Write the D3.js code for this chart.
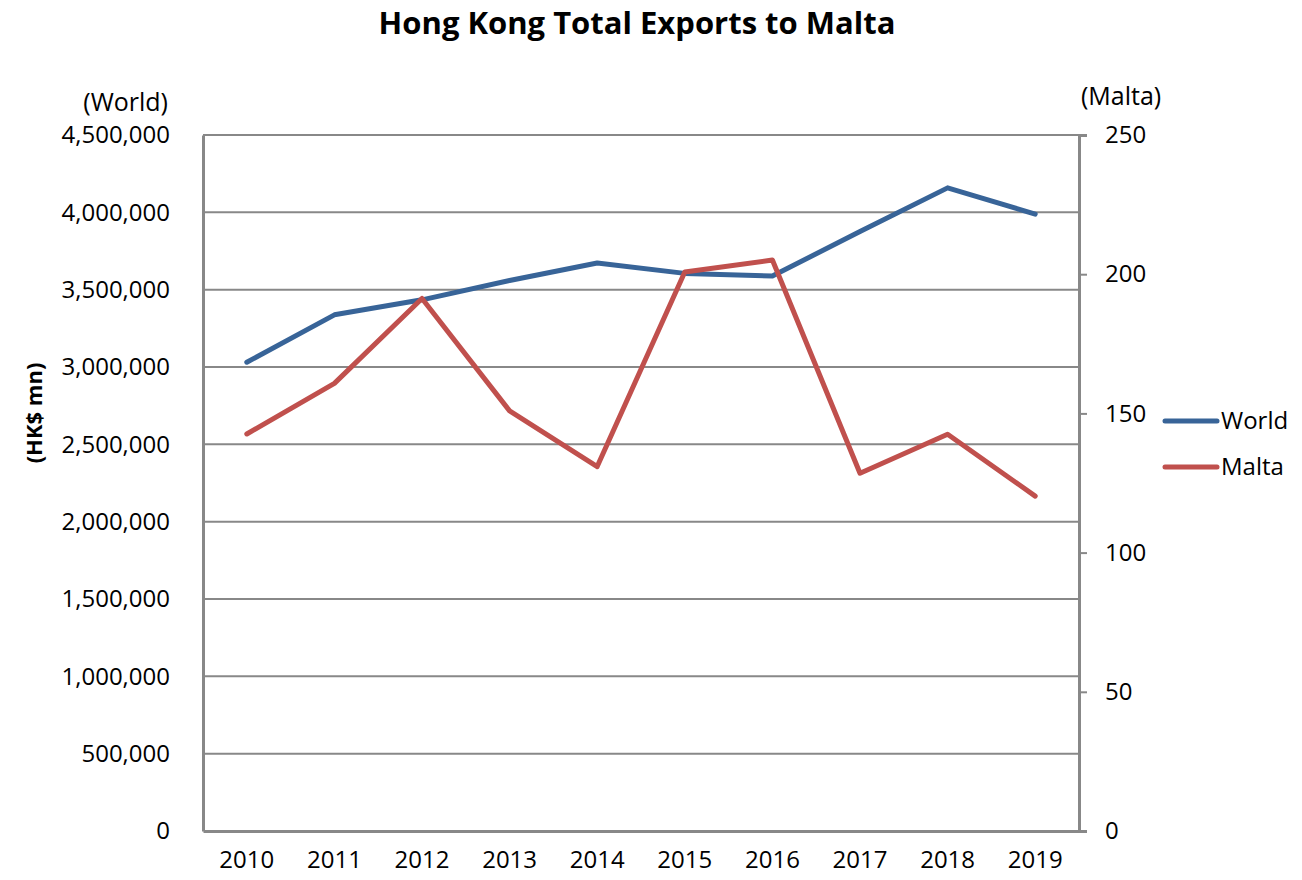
<!DOCTYPE html>
<html>
<head>
<meta charset="utf-8">
<script src="https://cdn.jsdelivr.net/npm/d3@7"></script>
<style>
  body { margin: 0; background: #fff; }
  text { font-family: "Open Sans", sans-serif; fill: #000; }
</style>
</head>
<body>
<div id="chart"><svg></svg></div>
<script>
// data
const years = ["2010", "2011", "2012", "2013", "2014", "2015", "2016", "2017", "2018", "2019"];
const world = [3031019, 3337253, 3434346, 3559686, 3672751, 3605279, 3588247, 3875898, 4158112, 3988685];
const malta = [142.6, 160.8, 191.3, 150.9, 130.9, 200.8, 205.1, 128.5, 142.5, 120.3];
const leftTicks = [0, 500000, 1000000, 1500000, 2000000, 2500000, 3000000, 3500000, 4000000, 4500000];
const rightTicks = [0, 50, 100, 150, 200, 250];

const W = 1302, H = 880;
const plot = {left: 203, right: 1079, top: 135, bottom: 831};
const gray = "#888888";

const svg = d3.select("#chart svg")
    .attr("width", W)
    .attr("height", H);

// scales
const x = d3.scaleBand()
    .domain(years)
    .range([plot.left, plot.right]);

const yL = d3.scaleLinear()
    .domain([0, 4500000])
    .range([plot.bottom, plot.top]);

const yR = d3.scaleLinear()
    .domain([0, 250])
    .range([plot.bottom, plot.top]);

// gridlines
svg.append("g")
    .selectAll("line")
    .data(leftTicks.slice(1))
    .join("line")
    .attr("x1", plot.left)
    .attr("x2", plot.right)
    .attr("y1", d => yL(d))
    .attr("y2", d => yL(d))
    .attr("stroke", gray)
    .attr("stroke-width", 2);

// left axis
const axL = svg.append("g")
    .attr("transform", `translate(${plot.left},0)`)
    .call(d3.axisLeft(yL).tickValues(leftTicks).tickSize(0).tickPadding(33).tickFormat(d3.format(",")));
axL.select(".domain").attr("stroke", gray).attr("stroke-width", 3);
axL.selectAll("text").style("font-size", "24px").attr("font-family", "Open Sans");

// right axis
const axR = svg.append("g")
    .attr("transform", `translate(${plot.right},0)`)
    .call(d3.axisRight(yR).tickValues(rightTicks).tickSize(8).tickPadding(18));
axR.select(".domain").attr("stroke", gray).attr("stroke-width", 3);
axR.selectAll("line").attr("stroke", gray).attr("stroke-width", 2);
axR.selectAll("text").style("font-size", "24px").attr("font-family", "Open Sans");

// bottom axis
const axB = svg.append("g")
    .attr("transform", `translate(0,${plot.bottom})`)
    .call(d3.axisBottom(x).tickSize(0).tickPadding(20));
axB.select(".domain").attr("stroke", gray).attr("stroke-width", 3);
axB.selectAll("text").style("font-size", "24px").attr("font-family", "Open Sans");

// lines
const cx = d => x(d) + x.bandwidth() / 2;

const lineW = d3.line()
    .x((d, i) => cx(years[i]))
    .y(d => yL(d));

const lineM = d3.line()
    .x((d, i) => cx(years[i]))
    .y(d => yR(d));

svg.append("path")
    .datum(world)
    .attr("fill", "none")
    .attr("stroke", "#386498")
    .attr("stroke-width", 5)
    .attr("stroke-linejoin", "round")
    .attr("stroke-linecap", "round")
    .attr("d", lineW);

svg.append("path")
    .datum(malta)
    .attr("fill", "none")
    .attr("stroke", "#C0504D")
    .attr("stroke-width", 5)
    .attr("stroke-linejoin", "round")
    .attr("stroke-linecap", "round")
    .attr("d", lineM);

// title
svg.append("text")
    .attr("x", 637)
    .attr("y", 34)
    .attr("text-anchor", "middle")
    .style("font-size", "31px")
    .style("font-weight", "bold")
    .text("Hong Kong Total Exports to Malta");

// axis unit labels
svg.append("text")
    .attr("x", 168)
    .attr("y", 111)
    .attr("text-anchor", "end")
    .style("font-size", "25px")
    .text("(World)");

svg.append("text")
    .attr("x", 1081)
    .attr("y", 105)
    .style("font-size", "25px")
    .text("(Malta)");

svg.append("text")
    .attr("transform", "translate(42,413) rotate(-90)")
    .attr("text-anchor", "middle")
    .style("font-size", "22px")
    .style("font-weight", "bold")
    .text("(HK$ mn)");

// legend
const legend = svg.selectAll(".legend")
    .data([{name: "World", color: "#386498"}, {name: "Malta", color: "#C0504D"}])
    .join("g")
    .attr("class", "legend")
    .attr("transform", (d, i) => `translate(1165,${421 + i * 46})`);

legend.append("line")
    .attr("x1", 0)
    .attr("x2", 52)
    .attr("stroke", d => d.color)
    .attr("stroke-width", 5)
    .attr("stroke-linecap", "round");

legend.append("text")
    .attr("x", 56)
    .attr("y", 8)
    .style("font-size", "24px")
    .text(d => d.name);
</script>
</body>
</html>
